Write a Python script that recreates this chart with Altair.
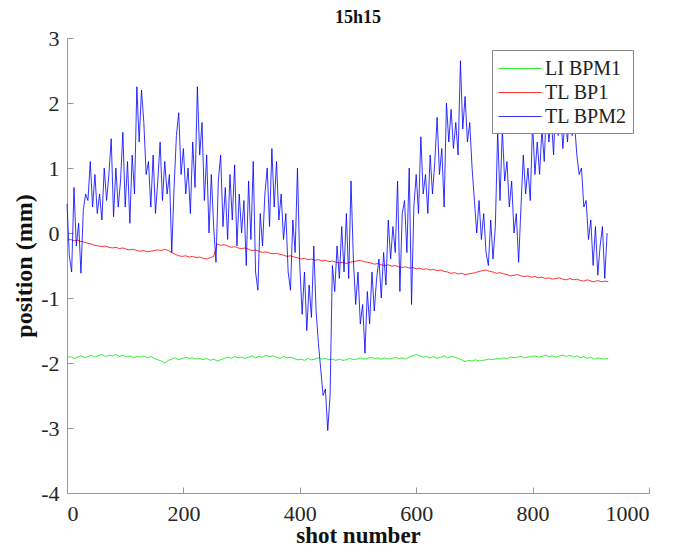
import altair as alt
import pandas as pd

# ---- data ----
series_names = ["LI BPM1", "TL BP1", "TL BPM2"]
series_colors = ["#00ee00", "#ff0000", "#0000ff"]

x_ticks = [0, 200, 400, 600, 800, 1000]
y_ticks = [-4, -3, -2, -1, 0, 1, 2, 3]

# LI BPM1 and TL BP1 sampled every 6 shots (0..930)
shots_slow = list(range(0, 931, 6))
li_bpm1 = [
    -1.92, -1.90, -1.93, -1.91, -1.89, -1.92, -1.90, -1.88, -1.91, -1.89, -1.87, -1.90, -1.88,
    -1.89, -1.87, -1.90, -1.88, -1.91, -1.89, -1.92, -1.90, -1.91, -1.89, -1.92, -1.90, -1.93,
    -1.95, -1.97, -2.00, -1.96, -1.94, -1.92, -1.95, -1.93, -1.91, -1.93, -1.92, -1.94, -1.93,
    -1.95, -1.93, -1.96, -1.94, -1.97, -1.95, -1.93, -1.91, -1.93, -1.90, -1.92, -1.91, -1.93,
    -1.91, -1.89, -1.92, -1.90, -1.91, -1.88, -1.90, -1.89, -1.91, -1.93, -1.90, -1.92, -1.91,
    -1.93, -1.95, -1.94, -1.96, -1.93, -1.95, -1.94, -1.92, -1.94, -1.93, -1.95, -1.94, -1.96,
    -1.94, -1.96, -1.95, -1.93, -1.95, -1.94, -1.92, -1.94, -1.93, -1.91, -1.93, -1.92, -1.94,
    -1.92, -1.94, -1.93, -1.91, -1.93, -1.92, -1.94, -1.91, -1.89, -1.87, -1.89, -1.91, -1.90,
    -1.92, -1.90, -1.93, -1.91, -1.89, -1.92, -1.90, -1.91, -1.93, -1.95, -1.98, -1.96, -1.97,
    -1.95, -1.97, -1.96, -1.95, -1.94, -1.95, -1.93, -1.94, -1.92, -1.93, -1.91, -1.92, -1.91,
    -1.90, -1.92, -1.91, -1.90, -1.89, -1.91, -1.90, -1.88, -1.90, -1.89, -1.91, -1.89, -1.88,
    -1.90, -1.88, -1.91, -1.89, -1.92, -1.90, -1.93, -1.91, -1.94, -1.92, -1.93, -1.94, -1.93,
]
tl_bp1 = [
    -0.11, -0.10, -0.12, -0.11, -0.13, -0.14, -0.16, -0.17, -0.19, -0.20, -0.21, -0.20, -0.22,
    -0.23, -0.22, -0.24, -0.23, -0.25, -0.26, -0.25, -0.27, -0.28, -0.27, -0.29, -0.28, -0.27,
    -0.26, -0.27, -0.25, -0.27, -0.30, -0.33, -0.35, -0.36, -0.35, -0.37, -0.36, -0.38, -0.37,
    -0.39, -0.40, -0.38, -0.36, -0.17, -0.19, -0.18, -0.20, -0.22, -0.21, -0.23, -0.24, -0.23,
    -0.25, -0.27, -0.26, -0.28, -0.30, -0.29, -0.31, -0.32, -0.31, -0.33, -0.34, -0.36, -0.35,
    -0.37, -0.38, -0.40, -0.39, -0.41, -0.40, -0.42, -0.41, -0.43, -0.42, -0.44, -0.43, -0.45,
    -0.46, -0.45, -0.47, -0.45, -0.44, -0.43, -0.42, -0.44, -0.45, -0.46, -0.48, -0.47, -0.49,
    -0.50, -0.49, -0.51, -0.50, -0.52, -0.53, -0.52, -0.54, -0.53, -0.55, -0.54, -0.56, -0.55,
    -0.57, -0.56, -0.58, -0.57, -0.59, -0.60, -0.62, -0.61, -0.63, -0.62, -0.64, -0.63, -0.62,
    -0.61, -0.59, -0.58, -0.57, -0.59, -0.60, -0.62, -0.61, -0.63, -0.64, -0.66, -0.65, -0.64,
    -0.66, -0.67, -0.66, -0.68, -0.67, -0.69, -0.68, -0.70, -0.69, -0.71, -0.70, -0.69, -0.71,
    -0.72, -0.70, -0.72, -0.71, -0.73, -0.74, -0.72, -0.74, -0.75, -0.73, -0.75, -0.74, -0.75,
]

# TL BPM2 sampled every 4 shots (0..928)
shots_fast = list(range(0, 929, 4))
tl_bpm2 = [
    0.45, -0.35, -0.6, 0.7, -0.2, 0.15, -0.62, 0.35, 0.6, 0.5,
    1.1, 0.4, 0.9, 0.3, 0.6, 0.2, 1.0, 0.5, 0.9, 1.45,
    0.25, 1.0, 0.4, 0.8, 1.55, 0.4, 1.1, 0.15, 1.2, 0.6,
    2.25, 1.4, 2.2, 1.7, 0.9, 1.1, 0.4, 1.2, 0.3, 0.8,
    1.4, 0.5, 1.1, 0.6, 0.9, -0.3, 0.7, 1.5, 1.85, 0.9,
    1.3, 0.6, 1.0, 0.3, 1.4, 0.7, 2.25, 1.2, 1.7, 0.5,
    1.2, 0.0, 0.9, 0.1, -0.45, 0.8, 1.2, 0.1, 0.7, -0.1,
    0.9, 0.2, 1.05, -0.2, 0.6, 0.0, 0.5, -0.5, 0.8, -0.1,
    1.1, -0.6, -0.88, 0.3, -0.2, 0.6, 1.0, 0.1, 1.3, 0.4,
    1.1, 0.2, 0.6, -0.1, 0.3, -0.6, -0.88, 0.2, -0.3, 1.0,
    -0.5, -1.25, -0.6, -1.5, -0.8, -1.3, -0.2, -1.2, -1.7, -2.1,
    -2.5, -2.4, -3.04, -2.5, -0.5, -0.9, -0.2, -0.7, 0.1, -0.6,
    0.3, -0.7, 0.8, -0.4, -1.1, -0.6, -1.4, -1.1, -1.85, -0.9,
    -1.4, -0.6, -1.2, -0.7, -0.4, -1.0, -0.3, -0.8, 0.2, -0.4,
    0.1, -0.3, 0.8, -0.9, 0.3, 0.5, -0.3, 1.0, -1.1, 0.4,
    0.9, 0.3, 1.48, 0.6, 0.9, 0.3, 1.2, 0.6, 1.1, 1.78,
    0.9, 1.3, 0.4, 2.0, 1.4, 1.9, 1.3, 1.7, 1.2, 2.65,
    1.6, 2.1, 1.4, 1.7, 1.0, 0.5, 0.0, 0.5, -0.1, 0.3,
    -0.3, -0.5, 0.2, -0.4, 0.1, 1.58, 0.5, 1.6, 0.8, 1.1,
    0.4, 0.8, 0.0, 0.3, -0.45, 0.4, 1.2, 0.6, 1.0, 0.5,
    1.7, 0.9, 1.4, 0.9, 1.6, 1.1, 2.0, 1.4, 1.8, 1.2,
    2.1, 1.5, 1.9, 1.3, 1.8, 1.4, 2.0, 1.5, 1.7, 1.2,
    0.9, 1.0, 0.4, 0.5, -0.1, 0.2, -0.5, 0.1, -0.65, -0.2,
    0.1, -0.7, 0.0,
]

rows = []
for s, v in zip(shots_slow, li_bpm1):
    rows.append({"shot": s, "pos": v, "series": series_names[0]})
for s, v in zip(shots_slow, tl_bp1):
    rows.append({"shot": s, "pos": v, "series": series_names[1]})
for s, v in zip(shots_fast, tl_bpm2):
    rows.append({"shot": s, "pos": v, "series": series_names[2]})
df = pd.DataFrame(rows)

FONT = "Liberation Serif"
xscale = alt.Scale(domain=[0, 1000], nice=False, zero=False)
yscale = alt.Scale(domain=[-4, 3], nice=False, zero=False)

lines = alt.Chart(df).mark_line(strokeWidth=1, opacity=0.8).encode(
    x=alt.X("shot:Q", scale=xscale,
            axis=alt.Axis(values=x_ticks, title="shot number", orient="bottom",
                          tickSize=0, grid=False, domainColor="#999999",
                          labelFont=FONT, labelFontSize=22, labelColor="#262626",
                          labelPadding=10, labelExpr="'' + datum.value",
                          titleFont=FONT, titleFontSize=23, titleFontWeight="bold",
                          titleColor="#111111", titlePadding=0)),
    y=alt.Y("pos:Q", scale=yscale,
            axis=alt.Axis(values=y_ticks, title="position (mm)", orient="left",
                          tickSize=0, grid=False, domainColor="#999999",
                          labelFont=FONT, labelFontSize=22, labelColor="#262626",
                          labelPadding=8, labelExpr="'' + datum.value",
                          titleFont=FONT, titleFontSize=24, titleFontWeight="bold",
                          titleColor="#111111", titlePadding=4)),
    color=alt.Color("series:N",
                    scale=alt.Scale(domain=series_names, range=series_colors),
                    legend=alt.Legend(title=None, orient="none", legendX=425, legendY=12,
                                      symbolType="M-1,0H2.6", symbolSize=576,
                                      symbolStrokeWidth=1, labelOffset=22,
                                      labelFont=FONT, labelFontSize=20, labelColor="#222222",
                                      strokeColor="#888888", fillColor="#ffffff",
                                      padding=6, rowPadding=1)),
)

inner_ticks = alt.Chart(df).mark_line(opacity=0).encode(
    x=alt.X("shot:Q", scale=xscale,
            axis=alt.Axis(values=x_ticks, title="", orient="bottom", offset=-6,
                          tickSize=6, labels=False, domain=False, grid=False,
                          tickColor="#999999")),
    y=alt.Y("pos:Q", scale=yscale,
            axis=alt.Axis(values=y_ticks, title="", orient="left", offset=-6,
                          tickSize=6, labels=False, domain=False, grid=False,
                          tickColor="#999999")),
)

chart = alt.layer(lines, inner_ticks).resolve_axis(
    x="independent", y="independent"
).properties(
    width=582, height=455,
    title=alt.TitleParams("15h15", font=FONT, fontSize=18, fontWeight="bold",
                          anchor="middle", offset=0, color="#111111"),
    autosize=alt.AutoSizeParams(type="none"),
    padding={"left": 59, "top": 30, "right": 18, "bottom": 56},
).configure_view(stroke=None)

chart.save("out.html", embed_options={"renderer": "svg", "actions": False})
